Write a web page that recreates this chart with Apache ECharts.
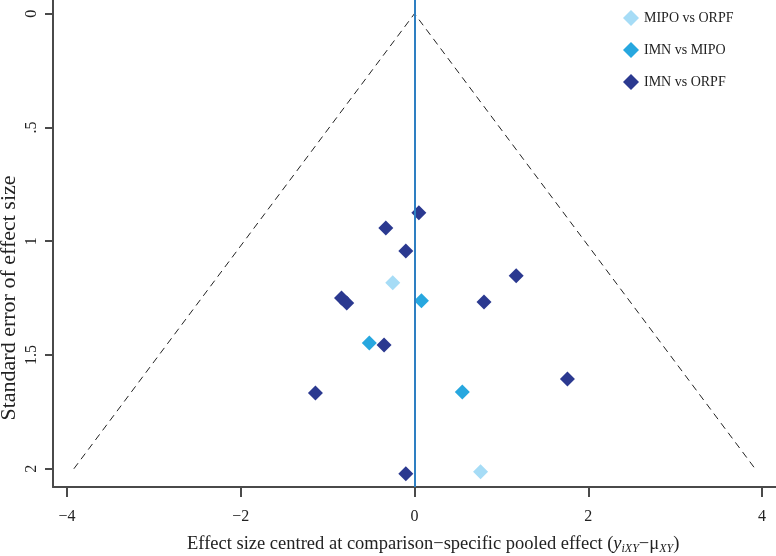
<!DOCTYPE html>
<html>
<head>
<meta charset="utf-8">
<script src="https://cdn.jsdelivr.net/npm/echarts@6/dist/echarts.min.js"></script>
<style>
  html, body { margin: 0; padding: 0; background: #fff; }
  #chart { width: 776px; height: 556px; }
</style>
</head>
<body>
<div id="chart"></div>
<script>
// comparison groups
const groups = ['MIPO vs ORPF', 'IMN vs MIPO', 'IMN vs ORPF']
const groupColors = ['#a6dcf6', '#27a7df', '#2b3990']

// [centred effect size, standard error]
const mipoOrpf = [[-0.25, 1.183], [0.76, 2.013]]
const imnMipo = [[0.08, 1.262], [-0.52, 1.447], [0.55, 1.662]]
const imnOrpf = [
  [0.05, 0.875], [-0.33, 0.942], [-0.10, 1.043], [1.17, 1.152],
  [-0.84, 1.249], [-0.78, 1.271], [0.80, 1.267], [-0.35, 1.456],
  [1.76, 1.605], [-1.14, 1.667], [-0.10, 2.022]
]

// pseudo 95% confidence funnel
const funnel = [[-3.92, 2], [0, 0], [3.92, 2]]

const xTicks = [-4, -2, 0, 2, 4]
const xTickLabels = ['\u22124', '\u22122', '0', '2', '4']
const yTicks = [0, 0.5, 1, 1.5, 2]
const yTickLabels = ['0', '.5', '1', '1.5', '2']

const FONT = 'Liberation Serif'
const AXIS_COLOR = '#4a4a4a'
const TEXT_COLOR = '#222'

const chart = echarts.init(document.getElementById('chart'))

const pointSeries = (name, data, color) => ({
  name: name,
  type: 'scatter',
  data: data,
  symbol: 'diamond',
  symbolSize: 15,
  itemStyle: { color: color, opacity: 1 },
  z: 3
})

const rich = (extra) => Object.assign({
  fontFamily: FONT, fontSize: 18.5, fontWeight: 'normal', color: TEXT_COLOR, lineHeight: 22
}, extra)

const option = {
  animation: false,
  backgroundColor: '#fff',
  grid: { left: 53, right: 0, top: 0, bottom: 69 },
  title: {
    text: '{n|Effect size centred at comparison\u2212specific pooled effect (}{i|y}{s|iXY}{n|\u2212\u03bc}{s|XY}{n|)}',
    left: 187,
    top: 533,
    padding: 0,
    textStyle: {
      fontWeight: 'normal',
      rich: {
        n: rich({}),
        i: rich({ fontStyle: 'italic' }),
        s: rich({ fontSize: 12, fontStyle: 'italic', verticalAlign: 'bottom' })
      }
    }
  },
  legend: {
    orient: 'vertical',
    left: 618,
    top: 5,
    itemWidth: 16,
    itemHeight: 16,
    itemGap: 16,
    icon: 'diamond',
    data: groups,
    textStyle: { fontFamily: FONT, fontSize: 14, color: TEXT_COLOR }
  },
  graphic: [{
    type: 'text',
    x: 9,
    y: 298,
    rotation: Math.PI / 2,
    style: {
      text: 'Standard error of effect size',
      fontFamily: FONT,
      fontSize: 22,
      fill: TEXT_COLOR,
      align: 'center',
      verticalAlign: 'middle'
    }
  }],
  xAxis: {
    type: 'value',
    min: -4.16,
    max: 4.16,
    splitLine: { show: false },
    axisLine: { show: true, onZero: false, lineStyle: { color: AXIS_COLOR, width: 2 } },
    axisTick: { show: true, length: 10, customValues: xTicks, lineStyle: { color: AXIS_COLOR, width: 2 } },
    axisLabel: {
      customValues: xTicks,
      margin: 22,
      fontFamily: FONT,
      fontSize: 16,
      color: TEXT_COLOR,
      formatter: (v) => xTickLabels[xTicks.indexOf(v)]
    }
  },
  yAxis: {
    type: 'value',
    inverse: true,
    min: -0.06,
    max: 2.08,
    splitLine: { show: false },
    axisLine: { show: true, onZero: false, lineStyle: { color: AXIS_COLOR, width: 2 } },
    axisTick: { show: true, length: 8, customValues: yTicks, lineStyle: { color: AXIS_COLOR, width: 2 } },
    axisLabel: {
      customValues: yTicks,
      rotate: 90,
      margin: 13,
      fontFamily: FONT,
      fontSize: 16,
      color: TEXT_COLOR,
      formatter: (v) => yTickLabels[yTicks.indexOf(v)]
    }
  },
  series: [
    {
      name: 'funnel',
      type: 'line',
      data: funnel,
      symbol: 'none',
      silent: true,
      lineStyle: { color: '#222', width: 1, type: [7, 5] },
      z: 2
    },
    pointSeries(groups[0], mipoOrpf, groupColors[0]),
    pointSeries(groups[1], imnMipo, groupColors[1]),
    pointSeries(groups[2], imnOrpf, groupColors[2]),
    {
      name: 'zero',
      type: 'line',
      data: [],
      silent: true,
      z: 5,
      markLine: {
        silent: true,
        symbol: 'none',
        label: { show: false },
        lineStyle: { color: '#2e7fc2', width: 2, type: 'solid' },
        data: [{ xAxis: 0 }]
      }
    }
  ]
}

chart.setOption(option)
</script>
</body>
</html>
